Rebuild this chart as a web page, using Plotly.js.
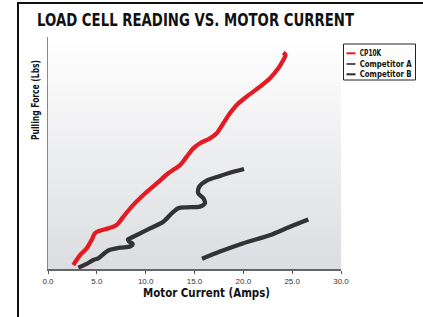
<!DOCTYPE html>
<html>
<head>
<meta charset="utf-8">
<script src="https://cdn.plot.ly/plotly-3.0.1.min.js"></script>
<style>html,body{margin:0;padding:0;background:#fff;}#chart{width:423px;height:317px;}</style>
</head>
<body>
<div id="chart"></div>
<script>
// Data (x: Motor Current in Amps, y: relative pulling force)
const seriesNames = ["CP10K", "Competitor A", "Competitor B"];
const cp10kX = [2.59, 3.28, 3.96, 4.47, 4.81, 5.32, 6.17, 7.03, 7.71, 8.57, 9.76, 11.13, 12.32, 13.52, 14.20, 14.88, 15.56, 16.59, 17.27, 17.95, 18.63, 19.32, 20.34, 21.71, 22.73, 23.58, 24.09, 24.32, 24.09];
const cp10kY = [1.7, 6.0, 8.9, 12.5, 15.4, 16.5, 17.5, 19.0, 22.5, 26.9, 31.9, 36.9, 41.3, 44.8, 48.4, 52.0, 54.2, 56.3, 58.5, 62.8, 67.1, 70.7, 74.3, 78.6, 82.2, 86.5, 90.1, 92.2, 93.3];
const compAX = [3.10, 3.96, 4.64, 5.15, 6.17, 7.37, 8.40, 8.67, 8.29, 8.19, 8.73, 10.44, 11.81, 12.67, 13.34, 14.20, 15.56, 16.07, 15.90, 15.39, 15.49, 16.25, 17.61, 18.97, 20.07];
const compAY = [0.6, 2.2, 3.9, 4.6, 8.0, 9.2, 9.7, 10.8, 11.9, 12.8, 13.9, 17.5, 20.4, 24.0, 26.2, 26.6, 26.9, 28.3, 30.5, 32.6, 35.5, 38.1, 40.1, 41.9, 43.1];
const compBX = [15.77, 17.61, 20.00, 22.93, 24.78, 26.65];
const compBY = [4.4, 7.5, 11.1, 14.9, 18.2, 21.3];
const xTickVals = [0, 5, 10, 15, 20, 25, 30];
const xTickText = ["0.0", "5.0", "10.0", "15.0", "20.0", "25.0", "30.0"];

const colors = ["#e31b23", "#333333", "#333333"];
const legendColors = ["#e31b23", "#555555", "#2a2a2a"];
const boldFont = "'DejaVu Sans', 'Liberation Sans', Arial, sans-serif";

const traces = [
  {x: cp10kX, y: cp10kY, name: seriesNames[0]},
  {x: compAX, y: compAY, name: seriesNames[1]},
  {x: compBX, y: compBY, name: seriesNames[2]}
].map((t, i) => Object.assign(t, {
  type: "scatter", mode: "lines",
  line: {color: colors[i], width: 4.3, shape: "spline", smoothing: 0.8},
  showlegend: false, hoverinfo: "skip"
}));

const gradSvg = '<svg xmlns="http://www.w3.org/2000/svg" width="100" height="100" viewBox="0 0 100 100" preserveAspectRatio="none"><defs><linearGradient id="g" x1="0" y1="0" x2="0" y2="1"><stop offset="0" stop-color="#ffffff"/><stop offset="1" stop-color="#dcdde0"/></linearGradient></defs><rect width="100" height="100" fill="url(#g)"/></svg>';

// plot area: px 48..341 horizontally, 37..269 vertically
const L = 48, R = 341, T = 37, B = 269;
const px = v => (v - L) / (R - L);
const py = v => (B - v) / (B - T);

const shapes = [
  {type: "rect", xref: "paper", yref: "paper", x0: px(18), x1: px(440), y0: py(330), y1: py(3),
   line: {color: "#111", width: 2}, fillcolor: "rgba(0,0,0,0)", layer: "above"},
  {type: "rect", xref: "paper", yref: "paper", x0: px(343.5), x1: px(415.5), y0: py(80), y1: py(44),
   line: {color: "#222", width: 1}, fillcolor: "#ffffff"}
];
const annotations = [
  {text: "<b>Pulling Force (Lbs)</b>", xref: "paper", yref: "paper", x: px(35), y: py(100),
   textangle: -90, showarrow: false, xanchor: "center", yanchor: "middle",
   font: {family: boldFont, size: 11, color: "#111"}}
];
const legendY = [53.3, 64, 74.3];
seriesNames.forEach((n, i) => {
  shapes.push({type: "line", xref: "paper", yref: "paper", x0: px(346.5), x1: px(355.5),
    y0: py(legendY[i]), y1: py(legendY[i]), line: {color: legendColors[i], width: 2}});
  annotations.push({text: "<b>" + n + "</b>", xref: "paper", yref: "paper", x: px(359.5), y: py(legendY[i]),
    showarrow: false, xanchor: "left", yanchor: "middle",
    font: {family: boldFont, size: 8, color: "#111"}});
});

const layout = {
  width: 423, height: 317,
  margin: {l: L, r: 423 - R, t: T, b: 317 - B, pad: 0},
  paper_bgcolor: "#ffffff", plot_bgcolor: "rgba(0,0,0,0)",
  showlegend: false,
  title: {text: "<b>LOAD CELL READING VS. MOTOR CURRENT</b>", x: 36.5 / 423, xanchor: "left",
    xref: "container", yref: "container", y: 1 - 20 / 317, yanchor: "middle",
    font: {family: boldFont, size: 18, color: "#111"}},
  xaxis: {range: [0, 30], tickvals: xTickVals, ticktext: xTickText, showgrid: false, zeroline: false,
    showline: true, linecolor: "#666", linewidth: 2, ticks: "outside", ticklen: 3, tickwidth: 1, tickcolor: "#555",
    tickfont: {family: "'Liberation Sans', Arial, sans-serif", size: 8, color: "#333"},
    title: {text: "<b>Motor Current (Amps)</b>", standoff: 4, font: {family: boldFont, size: 12, color: "#111"}},
    fixedrange: true},
  yaxis: {range: [0, 100], showgrid: false, zeroline: false, showticklabels: false, ticks: "",
    showline: true, linecolor: "#888", linewidth: 1.5, fixedrange: true},
  images: [{source: "data:image/svg+xml;utf8," + encodeURIComponent(gradSvg), xref: "paper", yref: "paper",
    x: 0, y: 1, sizex: 1, sizey: 1, sizing: "stretch", xanchor: "left", yanchor: "top", layer: "below"}],
  shapes: shapes,
  annotations: annotations
};

// squeeze a real text element horizontally to the condensed width of the reference font,
// then place its left edge (or centre) at a given page x
function fitText(el, width, mode, target) {
  if (!el) return;
  el.setAttribute("textLength", width);
  el.setAttribute("lengthAdjust", "spacingAndGlyphs");
  if (target === undefined) return;
  const r = el.getBoundingClientRect();
  const host = document.getElementById("chart").getBoundingClientRect();
  const cur = mode === "left" ? r.left - host.left : (r.left + r.right) / 2 - host.left;
  const dx = target - cur;
  el.setAttribute("x", (parseFloat(el.getAttribute("x")) || 0) + dx);
}

Plotly.newPlot("chart", traces, layout, {displayModeBar: false, staticPlot: true}).then(gd => {
  fitText(gd.querySelector("text.gtitle"), 317, "left", 37);
  fitText(gd.querySelector("text.xtitle"), 127, "center", 206.5);
  const ann = gd.querySelectorAll(".annotation");
  const widths = [80, 21.5, 52, 52];
  ann.forEach(a => {
    const idx = parseInt(a.getAttribute("data-index"), 10);
    const t = a.querySelector(".annotation-text");
    if (idx === 0) fitText(t, widths[idx]);
    else fitText(t, widths[idx], "left", 359.7);
  });
});
</script>
</body>
</html>
